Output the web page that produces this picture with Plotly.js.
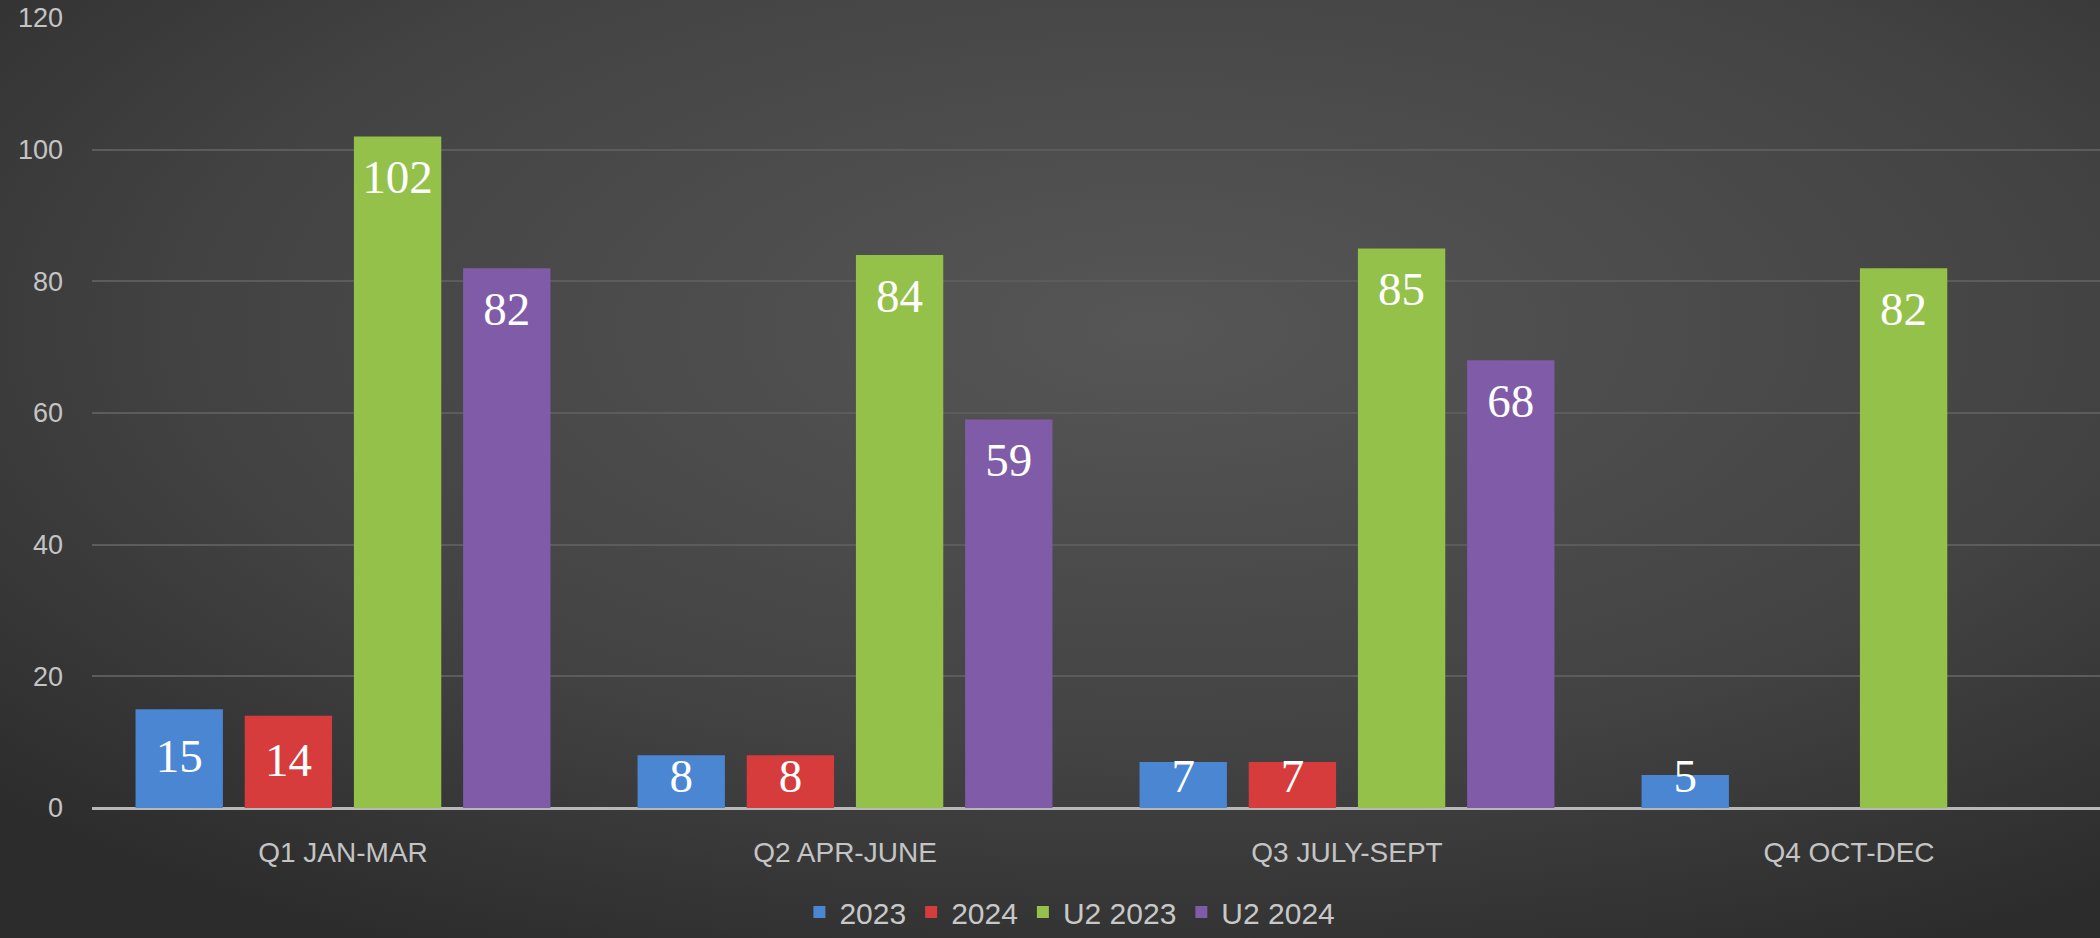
<!DOCTYPE html>
<html>
<head>
<meta charset="utf-8">
<script src="https://cdn.plot.ly/plotly-3.0.1.min.js"></script>
<style>
html,body{margin:0;padding:0;background:#333;overflow:hidden;}
#chart{width:2100px;height:938px;}
</style>
</head>
<body>
<div id="chart"></div>
<script>
const categories = ["Q1 JAN-MAR", "Q2 APR-JUNE", "Q3 JULY-SEPT", "Q4 OCT-DEC"];
const seriesNames = ["2023", "2024", "U2 2023", "U2 2024"];
const values2023 = [15, 8, 7, 5];
const values2024 = [14, 8, 7, null];
const valuesU2_2023 = [102, 84, 85, 82];
const valuesU2_2024 = [82, 59, 68, null];
const yTicks = [0, 20, 40, 60, 80, 100, 120];

const colors = ["#4a86d2", "#d63c3c", "#94c14a", "#7f5ba8"];
const allValues = [values2023, values2024, valuesU2_2023, valuesU2_2024];

// label anchor: just inside the bar end; short bars get a centred label
function labelY(v) {
  if (v === null) return null;
  return v >= 20 ? v - 6.8 : Math.max(v / 2 - 0.3, 4.2);
}

const barTraces = allValues.map((vals, i) => ({
  type: "bar",
  name: seriesNames[i],
  x: categories,
  y: vals,
  offsetgroup: "g" + i,
  marker: {color: colors[i], line: {width: 0}},
  hoverinfo: "skip"
}));

const textTraces = allValues.map((vals, i) => ({
  type: "scatter",
  mode: "text",
  showlegend: false,
  x: categories,
  y: vals.map(labelY),
  offsetgroup: "g" + i,
  text: vals.map(v => v === null ? "" : String(v)),
  textposition: "middle center",
  cliponaxis: false,
  textfont: {family: "Liberation Serif, DejaVu Serif, serif", size: 47, color: "#ffffff"},
  hoverinfo: "skip"
}));

const bgSvg = '<svg xmlns="http://www.w3.org/2000/svg" width="2100" height="938">' +
  '<defs><radialGradient id="g" cx="0.55" cy="0.35" r="0.75">' +
  '<stop offset="0" stop-color="#565656"/><stop offset="0.6" stop-color="#434343"/>' +
  '<stop offset="1" stop-color="#2c2c2c"/></radialGradient></defs>' +
  '<rect width="2100" height="938" fill="url(#g)"/></svg>';

const layout = {
  width: 2100,
  height: 938,
  margin: {l: 92, r: 0, t: 18, b: 130, autoexpand: false},
  paper_bgcolor: "#404040",
  plot_bgcolor: "rgba(0,0,0,0)",
  barmode: "group",
  bargap: 0.13,
  bargroupgap: 0.2,
  scattermode: "group",
  scattergap: 0.13,
  showlegend: true,
  legend: {
    orientation: "h",
    x: 0.487, xanchor: "center",
    yref: "container",
    y: -0.016, yanchor: "bottom",
    font: {family: "Liberation Sans, sans-serif", size: 30, color: "#c8c8c8"},
    itemwidth: 30,
    traceorder: "normal",
    bgcolor: "rgba(0,0,0,0)"
  },
  xaxis: {
    type: "category",
    showgrid: false,
    zeroline: false,
    showline: false,
    ticks: "",
    tickfont: {family: "Liberation Sans, sans-serif", size: 28, color: "#c4c4c4"},
    ticklabelstandoff: 25
  },
  yaxis: {
    range: [0, 120],
    tickvals: yTicks,
    ticktext: yTicks.map(String),
    showgrid: true,
    gridcolor: "#5c5c5c",
    gridwidth: 2,
    zeroline: true,
    zerolinecolor: "#b8b8b8",
    zerolinewidth: 3,
    showline: false,
    ticks: "",
    tickfont: {family: "Liberation Sans, sans-serif", size: 27, color: "#c4c4c4"},
    ticklabelstandoff: 28
  },
  images: [{
    source: "data:image/svg+xml;base64," + btoa(bgSvg),
    xref: "paper", yref: "paper",
    x: -92/2008, y: 1 + 18/790,
    sizex: 2100/2008, sizey: 938/790,
    xanchor: "left", yanchor: "top",
    sizing: "stretch",
    layer: "below"
  }]
};

Plotly.newPlot("chart", barTraces.concat(textTraces), layout, {displayModeBar: false, staticPlot: true});
</script>
</body>
</html>
